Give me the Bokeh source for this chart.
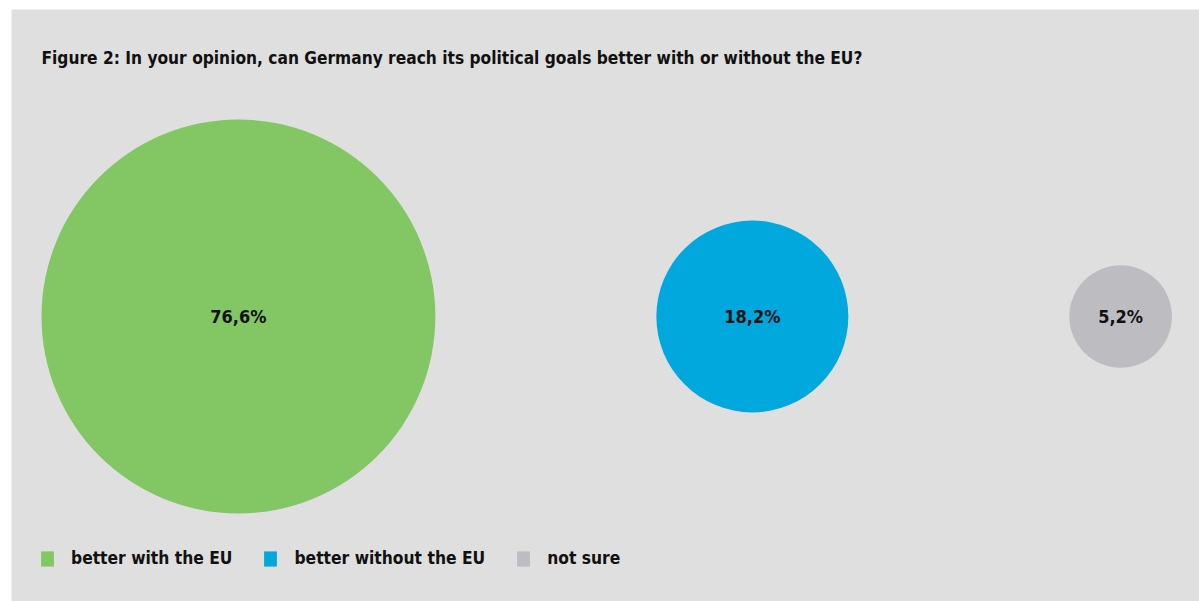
import numpy as np
from bokeh.plotting import figure
from bokeh.models import Range1d, Label, Legend, LegendItem, ColumnDataSource
from bokeh.embed import file_html
from bokeh.resources import INLINE

title = "Figure 2: In your opinion, can Germany reach its political goals better with or without the EU?"
categories = ["better with the EU", "better without the EU", "not sure"]
values = [76.6, 18.2, 5.2]
value_labels = ["76,6%", "18,2%", "5,2%"]
colors = ["#83c664", "#00a8de", "#bdbdc1"]

FONT = "DejaVu Sans Condensed"
W, H = 1199, 601
L, T = 11, 9

p = figure(width=W, height=H, output_backend="svg", toolbar_location=None,
           x_range=Range1d(L, W), y_range=Range1d(H, T),
           min_border_left=L, min_border_top=T, min_border_right=0, min_border_bottom=0)
p.axis.visible = False
p.grid.visible = False
p.outline_line_color = None
p.background_fill_color = "#dfdfdf"
p.border_fill_color = "white"

# bubble sizes: area proportional to value, fixed gap between bubbles
k = 22.5
radii = [k * np.sqrt(v) for v in values]
gap = 221
xs = []
x = 41
for r in radii:
    xs.append(x + r)
    x += 2 * r + gap
ys = [316] * len(values)

src = ColumnDataSource(dict(x=xs, y=ys, r=radii, c=colors, lab=value_labels))
p.circle(x="x", y="y", radius="r", fill_color="c", line_color=None, source=src)
p.text(x="x", y="y", text="lab", text_align="center", text_baseline="middle",
       text_font={"value": FONT}, text_font_style="bold", text_font_size="18px",
       text_color="#111111", source=src)

p.add_layout(Label(x=41, y=57, text=title, text_baseline="middle", text_font=FONT,
                   text_font_style="bold", text_font_size="17.2px", text_color="#111111"))

items = []
for cat, col in zip(categories, colors):
    rr = p.quad(left=[np.nan], right=[np.nan], top=[np.nan], bottom=[np.nan],
                fill_color=col, line_color=None)
    items.append(LegendItem(label=cat, renderers=[rr]))
leg = Legend(items=items, orientation="horizontal", location=(28, 33),
             glyph_width=16, glyph_height=19, label_standoff=16, spacing=30,
             padding=0, margin=0, background_fill_alpha=0, border_line_color=None,
             label_text_font=FONT, label_text_font_style="bold",
             label_text_font_size="17.3px", label_text_color="#111111")
p.add_layout(leg, "center")

open("out.html", "w").write(file_html(p, INLINE))
